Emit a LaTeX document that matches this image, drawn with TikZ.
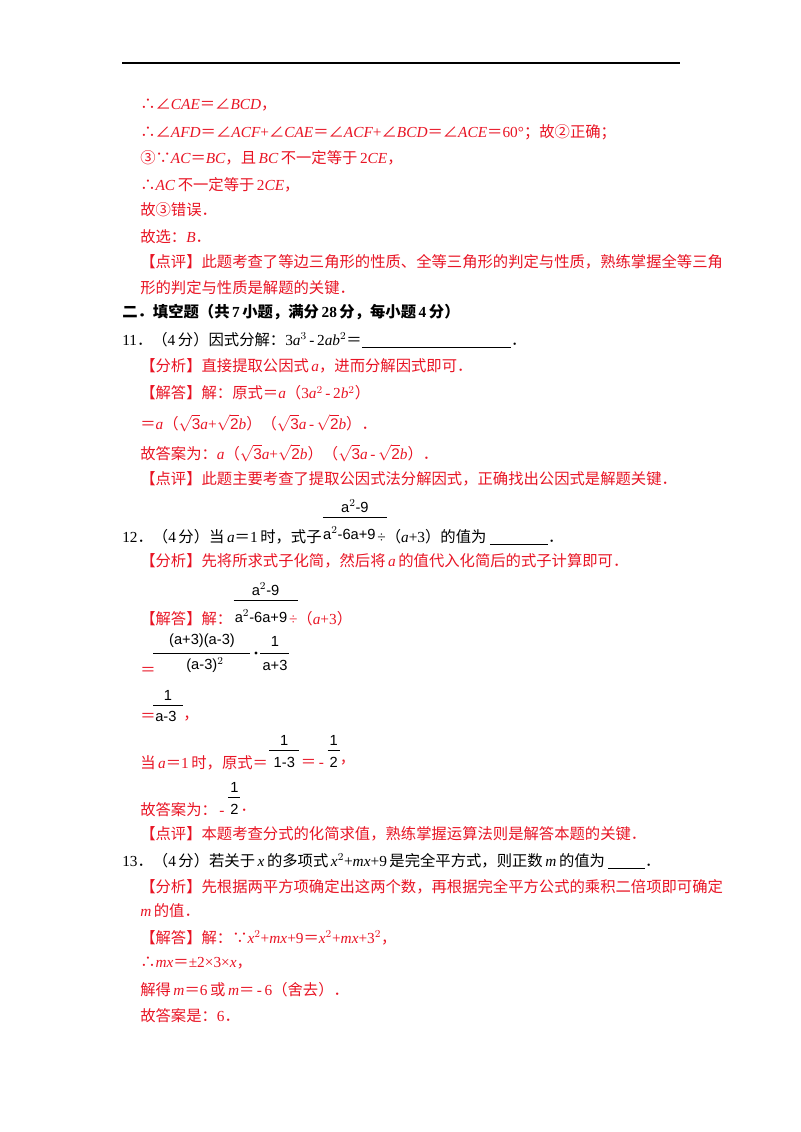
\documentclass[tikz,border=0pt]{standalone}
\usepackage{fontspec}
\setmainfont{Noto Sans CJK SC}
\newfontfamily\lat{Liberation Serif}
\newfontfamily\ls{Liberation Sans}
\definecolor{myred}{RGB}{232,20,36}
\newcommand\m[1]{{\lat\itshape #1}}
\newcommand\n[1]{{\lat #1}}
\newcommand\sq[1]{$\sqrt{\mbox{\ls #1}}$}
\begin{document}
\begin{tikzpicture}[x=0.75pt,y=-0.75pt,
 t/.style={anchor=west,inner sep=0,font=\fontsize{11.5}{13}\selectfont},
 r/.style={t,text=myred},
 b/.style={t,font=\fontsize{11.5}{13}\selectfont\bfseries},
 sf/.style={inner sep=0,font=\ls\fontsize{11}{12}\selectfont},
 bar/.style={line width=0.6pt}]
\useasboundingbox (0,0) rectangle (800,1132);
\draw[line width=0.8pt] (122,63) coordinate (r1) -- (680,63) coordinate (r2);
\node[r] (l1) at (140,105) {∴∠\m{CAE}＝∠\m{BCD}，};
\node[r] (l2) at (140,132) {∴∠\m{AFD}＝∠\m{ACF}\n{+}∠\m{CAE}＝∠\m{ACF}\n{+}∠\m{BCD}＝∠\m{ACE}＝\n{60°}；故②正确；};
\node[r] (l3) at (140,158) {③∵\m{AC}＝\m{BC}，且\,\m{BC}\,不一定等于\,\n{2}\m{CE}，};
\node[r] (l4) at (140,185) {∴\m{AC}\,不一定等于\,\n{2}\m{CE}，};
\node[r] (l5) at (140,210) {故③错误．};
\node[r] (l6) at (140,237) {故选：\m{B}．};
\node[r] (l7) at (140,262) {【点评】此题考查了等边三角形的性质、全等三角形的判定与性质，熟练掌握全等三角};
\node[r] (l8) at (140,288) {形的判定与性质是解题的关键．};
\node[b] (h2) at (122,312) {二．填空题（共\,\n{\bfseries 7}\,小题，满分\,\n{\bfseries 28}\,分，每小题\,\n{\bfseries 4}\,分）};
% 11
\node[t] (q11) at (122,340) {\n{11}．（\n{4}\,分）因式分解：\n{3}\m{a}$^{\n{3}}$\n{\,-\,2}\m{ab}$^{\n{2}}$＝\n{\underline{\hspace{112pt}}}．};
\node[r] (a11) at (140,366) {【分析】直接提取公因式\,\m{a}，进而分解因式即可．};
\node[r] (a11b) at (140,393) {【解答】解：原式＝\m{a}（\n{3}\m{a}$^{\n{2}}$\n{\,-\,2}\m{b}$^{\n{2}}$）};
\node[r] (a11c) at (140,423) {＝\m{a}（\sq{3}\m{a}\n{+}\sq{2}\m{b}）（\sq{3}\m{a}\n{\,-\,}\sq{2}\m{b}）．};
\node[r] (a11d) at (140,453) {故答案为：\m{a}（\sq{3}\m{a}\n{+}\sq{2}\m{b}）（\sq{3}\m{a}\n{\,-\,}\sq{2}\m{b}）．};
\node[r] (a11e) at (140,479) {【点评】此题主要考查了提取公因式法分解因式，正确找出公因式是解题关键．};
% 12
\node[t] (q12) at (122,537) {\n{12}．（\n{4}\,分）当\,\m{a}＝\n{1}\,时，式子};
\draw[bar] ([shift={(1,-20)}]q12.east) coordinate (f1a) -- ++(64,0) coordinate (f1b);
\node[sf] (f1n) at ([shift={(32,-11)}]f1a) {a$^{2}$-9};
\node[sf,anchor=west] (f1d) at ([shift={(1,-4)}]q12.east) {a$^{2}$-6a+9};
\node[t] (q12b) at ([xshift=1pt]f1d.east |- q12.east) {\n{÷}（\m{a}\n{+3}）的值为\ \n{\underline{\hspace{3.8em}}}．};
\node[r] (a12a) at (140,561) {【分析】先将所求式子化简，然后将\,\m{a}\,的值代入化简后的式子计算即可．};
\node[r] (a12b) at (140,619) {【解答】解：};
\draw[bar] ([shift={(1,-19)}]a12b.east) coordinate (f2a) -- ++(64,0) coordinate (f2b);
\node[sf] (f2n) at ([shift={(32,-11)}]f2a) {a$^{2}$-9};
\node[sf,anchor=west] (f2d) at ([shift={(2,-3)}]a12b.east) {a$^{2}$-6a+9};
\node[r] (a12c) at ([xshift=1pt]f2d.east |- a12b.east) {\n{÷}（\m{a}\n{+3}）};
\node[sf] (f3n) at (202,641) {(a+3)(a-3)};
\draw[bar] (153,653) coordinate (f3a) -- (250,653) coordinate (f3b);
\node[sf] (f3d) at (205,665) {(a-3)$^{2}$};
\node[r] (eq1) at (140,671) {＝};
\fill (256,653) circle (1.3pt) coordinate (dot);
\node[sf] (f4n) at (275,641) {1};
\draw[bar] (260,653) coordinate (f4a) -- (289,653) coordinate (f4b);
\node[sf] (f4d) at (275,665) {a+3};
\node[sf] (f5n) at (168,695) {1};
\draw[bar] (153,705) coordinate (f5a) -- (183,705) coordinate (f5b);
\node[r] (eq2) at (140,717) {＝};
\node[sf,anchor=west] (f5d) at (155,716) {a-3};
\node[r] (eq2c) at (183,719) {，};
\node[r] (a12d) at (140,763) {当\,\m{a}＝\n{1}\,时，原式＝};
\draw[bar] ([shift={(1,-13)}]a12d.east) coordinate (f6a) -- ++(30,0) coordinate (f6b);
\node[sf] (f6n) at ([shift={(15,-10)}]f6a) {1};
\node[sf] (f6d) at ([shift={(15,12)}]f6a) {1-3};
\node[r] (eq3) at ([xshift=1pt]f6b |- a12d.east) {＝\n{\,-\,}};
\draw[bar] ([shift={(1,-13)}]eq3.east) coordinate (f7a) -- ++(12,0) coordinate (f7b);
\node[sf] (f7n) at ([shift={(6,-10)}]f7a) {1};
\node[sf] (f7d) at ([shift={(6,12)}]f7a) {2};
\node[r] (eq3c) at ([xshift=0pt]f7b |- a12d.east) {，};
\node[r] (a12e) at (140,810) {故答案为：\n{\,-\,}};
\draw[bar] ([shift={(1,-13)}]a12e.east) coordinate (f8a) -- ++(12,0) coordinate (f8b);
\node[sf] (f8n) at ([shift={(6,-10)}]f8a) {1};
\node[sf] (f8d) at ([shift={(6,12)}]f8a) {2};
\node[r] (a12f) at (f8b |- a12e.east) {．};
\node[r] (a12g) at (140,834) {【点评】本题考查分式的化简求值，熟练掌握运算法则是解答本题的关键．};
% 13
\node[t] (q13) at (122,861) {\n{13}．（\n{4}\,分）若关于\,\m{x}\,的多项式\,\m{x}$^{\n{2}}$\n{+}\m{mx}\n{+9}\,是完全平方式，则正数\,\m{m}\,的值为\ \n{\underline{\hspace{2.4em}}}．};
\node[r] (a13) at (140,887) {【分析】先根据两平方项确定出这两个数，再根据完全平方公式的乘积二倍项即可确定};
\node[r] (a13b) at (140,911) {\m{m}\,的值．};
\node[r] (a13c) at (140,938) {【解答】解：∵\m{x}$^{\n{2}}$\n{+}\m{mx}\n{+9}＝\m{x}$^{\n{2}}$\n{+}\m{mx}\n{+3}$^{\n{2}}$，};
\node[r] (a13d) at (140,963) {∴\m{mx}＝\n{±2×3×}\m{x}，};
\node[r] (a13e) at (140,990) {解得\,\m{m}＝\n{6}\,或\,\m{m}＝\n{\,-\,6}（舍去）．};
\node[r] (a13f) at (140,1016) {故答案是：\n{6}．};
\end{tikzpicture}
\end{document}
